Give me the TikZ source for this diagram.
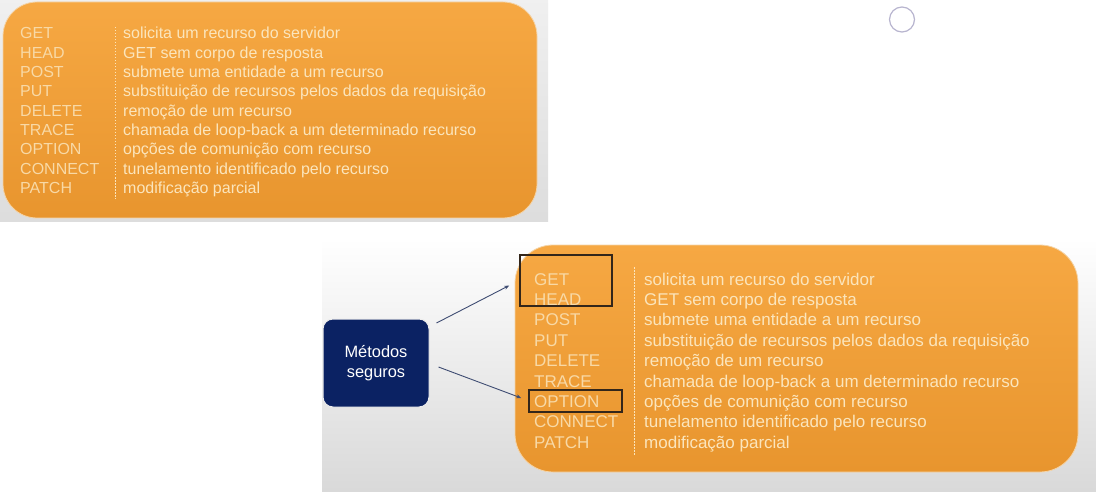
\documentclass[tikz,border=0pt]{standalone}
\usepackage{fontspec}
\setmainfont{Liberation Sans}
\usetikzlibrary{arrows.meta}
\definecolor{orTop}{HTML}{F6A843}
\definecolor{orBot}{HTML}{E8952E}
\definecolor{edgeGlow}{HTML}{F4D4A8}
\definecolor{methC}{HTML}{F8D9A6}
\definecolor{descC}{HTML}{FBE5BC}
\definecolor{navy}{HTML}{0B2263}
\definecolor{connC}{HTML}{3E4C72}
\definecolor{markC}{HTML}{33261A}
\definecolor{ringC}{HTML}{B8B5CF}
\tikzset{
  meth/.style={anchor=base west, inner sep=0pt, text=methC},
  desc/.style={anchor=base west, inner sep=0pt, text=descC},
  markbox/.style={draw=markC, line width=1.5pt},
  conn/.style={draw=connC, line width=0.9pt, -{Stealth[length=5pt,width=4pt]}},
  divider/.style={draw=descC, line width=0.8pt, dash pattern=on 1.5pt off 1.5pt},
}
\begin{document}
\begin{tikzpicture}[x=1pt,y=-1pt]
\useasboundingbox (0,0) rectangle (1096,492);
\fill[white] (0,0) rectangle (1096,492);
% screenshot backgrounds
\shade[top color=gray!12, bottom color=gray!27] (0,0) rectangle (548,222);
\shade[top color=white, bottom color=gray!30] (322,238) rectangle (1096,492);
% ring
\draw[ringC, line width=1.2pt] (902,19.5) circle[radius=12.5];
% top box
\shade[top color=orTop, bottom color=orBot, rounded corners=34pt] (3,2) rectangle (537,218);
\draw[edgeGlow, line width=0.8pt, rounded corners=34pt] (3,2) rectangle (537,218);
\draw[divider] (115,27) -- (115,199);
\foreach \m [count=\i] in {GET,HEAD,POST,PUT,DELETE,TRACE,OPTION,CONNECT,PATCH}
  \node[meth, font=\fontsize{16}{19}\selectfont] (ta\i) at (20, 39+19.3*\i-19.3) {\m};
\foreach \d [count=\i] in {solicita um recurso do servidor,GET sem corpo de resposta,submete uma entidade a um recurso,substituição de recursos pelos dados da requisição,remoção de um recurso,chamada de loop-back a um determinado recurso,opções de comunição com recurso,tunelamento identificado pelo recurso,modificação parcial}
  \node[desc, font=\fontsize{16}{19}\selectfont] (tb\i) at (123, 39+19.3*\i-19.3) {\d};
% bottom box
\shade[top color=orTop, bottom color=orBot, rounded corners=38pt] (515,245) rectangle (1078,472);
\draw[edgeGlow, line width=0.8pt, rounded corners=38pt] (515,245) rectangle (1078,472);
\draw[divider] (634,267) -- (634,455);
\foreach \m [count=\i] in {GET,HEAD,POST,PUT,DELETE,TRACE,OPTION,CONNECT,PATCH}
  \node[meth, font=\fontsize{17}{20}\selectfont] (ba\i) at (534, 285+20.4*\i-20.4) {\m};
\foreach \d [count=\i] in {solicita um recurso do servidor,GET sem corpo de resposta,submete uma entidade a um recurso,substituição de recursos pelos dados da requisição,remoção de um recurso,chamada de loop-back a um determinado recurso,opções de comunição com recurso,tunelamento identificado pelo recurso,modificação parcial}
  \node[desc, font=\fontsize{17}{20}\selectfont] (bb\i) at (644, 285+20.4*\i-20.4) {\d};
% highlight boxes
\node[markbox, minimum width=92pt, minimum height=51pt, inner sep=0pt] (getbox) at (566,280.5) {};
\node[markbox, minimum width=93pt, minimum height=22pt, inner sep=0pt] (optbox) at (575.5,401) {};
% Metodos seguros
\node[fill=navy, draw=white!85!gray, line width=1pt, rounded corners=10pt,
      minimum width=106pt, minimum height=88pt, text=white, align=center,
      font=\fontsize{16.4}{20}\selectfont] (m) at (376,363) {Métodos\\seguros};
\draw[conn] ([xshift=7pt,yshift=40pt]m.east) -- ([xshift=-10pt,yshift=-5pt]getbox.west);
\draw[conn] ([xshift=9pt,yshift=-4pt]m.east) -- ([xshift=-7pt,yshift=3pt]optbox.west);
\end{tikzpicture}
\end{document}
